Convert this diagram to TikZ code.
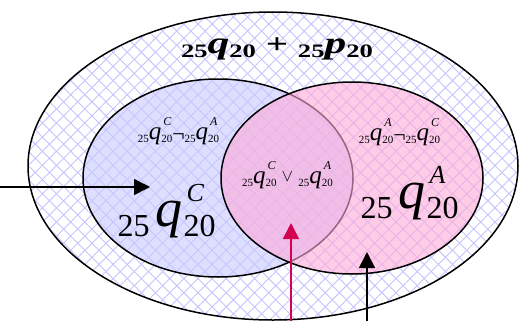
\documentclass[tikz,border=0pt]{standalone}
\usepackage{fontspec}
\setmainfont{Liberation Serif}
\newfontfamily\timesfont{Liberation Serif}
\usepackage{graphicx}
\usetikzlibrary{arrows.meta, patterns.meta}
\definecolor{lavender}{HTML}{C8C8FF}
\definecolor{rosa}{HTML}{FFAAD7}
\definecolor{hatch}{HTML}{C4C4FF}
\definecolor{crimson}{HTML}{D40050}
\newcommand{\qbig}[1]{{\fontsize{32}{32}\selectfont 25}\hspace{6pt}\raisebox{10pt}{\fontsize{54}{54}\selectfont\itshape q}\hspace{1pt}\rlap{\hspace{3pt}\raisebox{35pt}{\fontsize{26}{26}\selectfont\itshape #1}}{\fontsize{32}{32}\selectfont 20}}
\newcommand{\qsmall}[1]{{\fontsize{11}{11}\selectfont 25}\raisebox{3pt}{\fontsize{25}{25}\selectfont\itshape q}\rlap{\hspace{2pt}\raisebox{17pt}{\fontsize{12}{12}\selectfont\itshape #1}}{\fontsize{11}{11}\selectfont 20}}
\newcommand{\qsum}{\scalebox{1.4}[1]{\bfseries{\fontsize{19}{19}\selectfont 25}\raisebox{4pt}{\fontsize{31}{31}\selectfont\itshape q}{\fontsize{19}{19}\selectfont 20}\hspace{7pt}\raisebox{4pt}{\fontsize{28}{28}\selectfont +}\hspace{7pt}{\fontsize{19}{19}\selectfont 25}\raisebox{4pt}{\fontsize{31}{31}\selectfont\itshape p}{\fontsize{19}{19}\selectfont 20}}}

\begin{document}
\begin{tikzpicture}[x=1pt, y=-1pt, font=\timesfont,
  rim/.style={line width=1.5pt},
  pointer/.style={line width=1.6pt, -{Triangle[length=16pt, width=16pt]}},
  lbl/.style={anchor=base, inner sep=0pt}]
  \useasboundingbox (0,0) rectangle (524,321);

  \fill[white] (273,166) ellipse [x radius=245pt, y radius=154pt];
  \fill[pattern={Lines[angle=45, distance=10pt, line width=0.9pt]}, pattern color=hatch] (273,166) ellipse [x radius=245pt, y radius=154pt];
  \fill[pattern={Lines[angle=-45, distance=10pt, line width=0.9pt]}, pattern color=hatch] (273,166) ellipse [x radius=245pt, y radius=154pt];
  \draw[rim] (273,166) ellipse [x radius=245pt, y radius=154pt];

  \fill[lavender, fill opacity=0.6] (218,178) ellipse [x radius=135pt, y radius=99pt];
  \draw[rim] (218,178) ellipse [x radius=135pt, y radius=99pt];
  \fill[rosa, fill opacity=0.6] (352,178) ellipse [x radius=131pt, y radius=96pt];
  \draw[rim] (352,178) ellipse [x radius=131pt, y radius=96pt];

  \node[lbl] (total) at (277,58) {\qsum};
  \node[lbl] (conly) at (178.5,142.7) {\qsmall{C}\raisebox{1pt}{\fontsize{22}{22}\selectfont ¬}\qsmall{A}};
  \node[lbl] (aonly) at (399.5,143.5) {\qsmall{A}\raisebox{1pt}{\fontsize{22}{22}\selectfont ¬}\qsmall{C}};
  \node[lbl] (either) at (287.5,186.7) {\qsmall{C}\hspace{5pt}\raisebox{5pt}{\fontsize{19}{19}\selectfont$\vee$}\hspace{5pt}\qsmall{A}};
  \node[lbl] (cset) at (166.5,236.7) {\qbig{C}};
  \node[lbl] (aset) at (409.5,218.3) {\qbig{A}};

  \coordinate (cfrom) at (0,187);
  \coordinate (cto) at (150,187);
  \coordinate (efrom) at (291,321);
  \coordinate (eto) at (291,223);
  \coordinate (afrom) at (367,321);
  \coordinate (ato) at (367,252);
  \draw[pointer] (cfrom) -- (cto);
  \draw[pointer, crimson] (efrom) -- (eto);
  \draw[pointer] (afrom) -- (ato);
\end{tikzpicture}
\end{document}
